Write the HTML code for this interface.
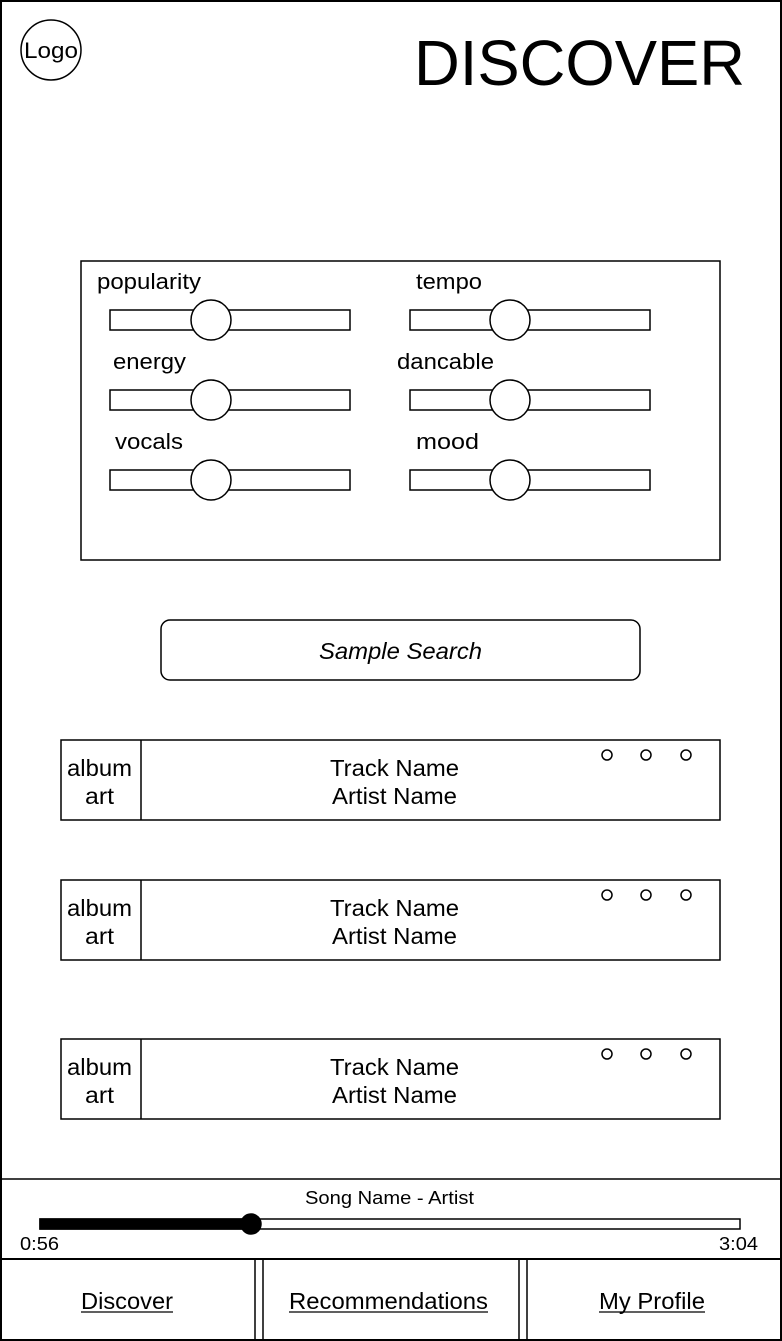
<!DOCTYPE html>
<html><head><meta charset="utf-8"><style>html,body{margin:0;padding:0;background:#fff}svg{display:block}</style></head><body>
<svg width="782" height="1341" viewBox="0 0 782 1341" xmlns="http://www.w3.org/2000/svg" font-family="Liberation Sans, Arial, sans-serif" fill="none" stroke="#000" stroke-width="1.5">
<rect x="1" y="1" width="780" height="1339" fill="#fff" stroke-width="2"/>
<circle cx="51" cy="50" r="30" fill="#fff"/>
<text x="24" y="58" font-size="22" fill="#000" stroke="none" textLength="54" lengthAdjust="spacingAndGlyphs">Logo</text>
<text x="414" y="85" font-size="64" fill="#000" stroke="none" textLength="331" lengthAdjust="spacingAndGlyphs">DISCOVER</text>
<rect x="81" y="261" width="639" height="299" fill="#fff"/>
<g fill="#000" stroke="none" font-size="22" lengthAdjust="spacingAndGlyphs">
<text x="97" y="289" textLength="104" lengthAdjust="spacingAndGlyphs">popularity</text>
<text x="416" y="289" textLength="66" lengthAdjust="spacingAndGlyphs">tempo</text>
<text x="113" y="369" textLength="73" lengthAdjust="spacingAndGlyphs">energy</text>
<text x="397" y="369" textLength="97" lengthAdjust="spacingAndGlyphs">dancable</text>
<text x="115" y="449" textLength="68" lengthAdjust="spacingAndGlyphs">vocals</text>
<text x="416" y="449" textLength="63" lengthAdjust="spacingAndGlyphs">mood</text>
</g>
<g fill="#fff">
<rect x="110" y="310" width="240" height="20"/><circle cx="211" cy="320" r="20"/>
<rect x="410" y="310" width="240" height="20"/><circle cx="510" cy="320" r="20"/>
<rect x="110" y="390" width="240" height="20"/><circle cx="211" cy="400" r="20"/>
<rect x="410" y="390" width="240" height="20"/><circle cx="510" cy="400" r="20"/>
<rect x="110" y="470" width="240" height="20"/><circle cx="211" cy="480" r="20"/>
<rect x="410" y="470" width="240" height="20"/><circle cx="510" cy="480" r="20"/>
</g>
<rect x="161" y="620" width="479" height="60" rx="9" fill="#fff"/>
<text x="319" y="659" font-size="23" font-style="italic" fill="#000" stroke="none" textLength="163" lengthAdjust="spacingAndGlyphs">Sample Search</text>
<g id="t">
<rect x="61" y="740" width="659" height="80" fill="#fff"/>
<line x1="141" y1="740" x2="141" y2="820"/>
<circle cx="607" cy="755" r="5"/><circle cx="646" cy="755" r="5"/><circle cx="686" cy="755" r="5"/>
<g fill="#000" stroke="none" font-size="23">
<text x="67" y="776" textLength="65" lengthAdjust="spacingAndGlyphs">album</text><text x="85" y="804" textLength="29" lengthAdjust="spacingAndGlyphs">art</text>
<text x="330" y="776" textLength="129" lengthAdjust="spacingAndGlyphs">Track Name</text><text x="332" y="804" textLength="125" lengthAdjust="spacingAndGlyphs">Artist Name</text>
</g>
</g>
<use href="#t" y="140"/>
<use href="#t" y="299"/>
<line x1="1" y1="1179" x2="781" y2="1179"/>
<text x="305" y="1204" font-size="18" fill="#000" stroke="none" textLength="169" lengthAdjust="spacingAndGlyphs">Song Name - Artist</text>
<rect x="40" y="1219" width="700" height="10" fill="#fff"/>
<rect x="40" y="1219" width="211" height="10" fill="#000"/>
<circle cx="251" cy="1224" r="10" fill="#000"/>
<text x="20" y="1250" font-size="18" fill="#000" stroke="none" textLength="39" lengthAdjust="spacingAndGlyphs">0:56</text>
<text x="719" y="1250" font-size="18" fill="#000" stroke="none" textLength="39" lengthAdjust="spacingAndGlyphs">3:04</text>
<line x1="1" y1="1259" x2="781" y2="1259" stroke-width="2"/>
<line x1="255" y1="1259" x2="255" y2="1340"/><line x1="263" y1="1259" x2="263" y2="1340"/>
<line x1="519" y1="1259" x2="519" y2="1340"/><line x1="527" y1="1259" x2="527" y2="1340"/>
<g fill="#000" stroke="none" font-size="23">
<text x="81" y="1309" textLength="92" lengthAdjust="spacingAndGlyphs">Discover</text>
<text x="289" y="1309" textLength="199" lengthAdjust="spacingAndGlyphs">Recommendations</text>
<text x="599" y="1309" textLength="106" lengthAdjust="spacingAndGlyphs">My Profile</text>
</g>
<g stroke-width="1.2">
<line x1="81" y1="1312" x2="173" y2="1312"/>
<line x1="289" y1="1312" x2="488" y2="1312"/>
<line x1="599" y1="1312" x2="705" y2="1312"/>
</g>
</svg>
</body></html>
